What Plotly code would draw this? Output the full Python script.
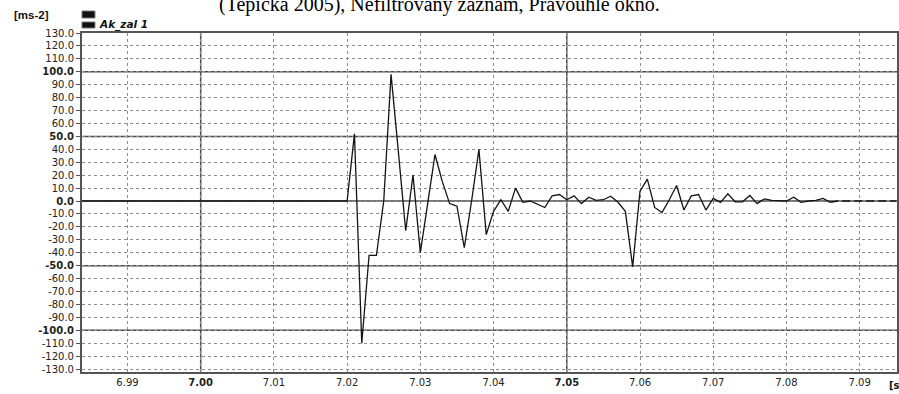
import numpy as np
import plotly.graph_objects as go

# Acceleration record Ak_zal 1 [m/s^2], sampled every 1 ms from the impact onset
t_start = 7.020
dt = 0.001
accel = [0, 52, -110, -42, -42, 0, 98, 38, -23, 20,
         -40, -2, 36, 15, -2, -4, -36, 0, 40, -26,
         -8, 1, -8, 10, -1, 0, -2.5, -5, 4, 5,
         1, 4, -2, 3, 0.5, 1, 3.7, -1, -8, -51,
         7.6, 17, -5, -9, 1, 12, -7, 4, 5, -7,
         2, -1, 5.6, -0.6, -0.6, 4.3, -2, 1.7, 0.5, 0,
         0, 3, -1, 0, 0.5, 2, -1, 0, 0, 0,
         0, 0, 0, 0, 0, 0]
# quiet baseline before the onset
baseline_t = [6.983, 7.020]
baseline_v = [0, 0]
tail_from = 66  # index where the record settles to zero

x_ticks = [6.99, 7.00, 7.01, 7.02, 7.03, 7.04, 7.05, 7.06, 7.07, 7.08, 7.09]
x_bold = [7.00, 7.05]
y_ticks = list(range(-130, 131, 10))
y_bold = [-100, -50, 0, 50, 100]

x_range = [6.98379, 7.0951]
y_range = [-132.3, 130]

times = list(t_start + dt * np.arange(len(accel)))

x_text = [f"<b>{v:.2f}</b>" if v in x_bold else f"{v:.2f}" for v in x_ticks]
y_text = [f"<b>{v:.1f}</b>" if v in y_bold else f"{v:.1f}" for v in y_ticks]

fig = go.Figure()
fig.add_trace(go.Scatter(
    x=baseline_t + times[:tail_from + 1], y=baseline_v + accel[:tail_from + 1],
    mode="lines", line=dict(color="#141414", width=1.3), showlegend=False,
    hoverinfo="skip"))
fig.add_trace(go.Scatter(
    x=times[tail_from:], y=accel[tail_from:],
    mode="lines", line=dict(color="#141414", width=1.6, dash="8px,4px"),
    showlegend=False, hoverinfo="skip"))

shapes = []
for v in y_bold:
    shapes.append(dict(type="line", xref="paper", x0=0, x1=1, yref="y", y0=v, y1=v,
                       line=dict(color="#4a4a4a", width=1.5), layer="below"))
for v in x_bold:
    shapes.append(dict(type="line", xref="x", x0=v, x1=v, yref="paper", y0=0, y1=1,
                       line=dict(color="#4a4a4a", width=1.5), layer="below"))

# legend keys above the plot area
W, H, L, T = 817.0, 339.0, 82.0, 33.0
def px(xp):
    return (xp - L) / W
def py(yp):
    return (T + H - yp) / H

for y0, y1 in [(11, 18), (22, 28)]:
    shapes.append(dict(type="rect", xref="paper", yref="paper",
                       x0=px(82), x1=px(95), y0=py(y1), y1=py(y0),
                       fillcolor="#111111", line=dict(color="#777777", width=1)))

annotations = [
    dict(text="(Tepička 2005), Nefiltrovaný záznam, Pravoúhlé okno.",
         xref="paper", yref="paper", x=px(440), y=py(4.5), xanchor="center", yanchor="middle",
         showarrow=False, font=dict(family="Liberation Serif", size=20, color="#000")),
    dict(text="<b>[ms-2]</b>", xref="paper", yref="paper", x=px(12), y=py(15),
         xanchor="left", yanchor="middle", showarrow=False,
         font=dict(family="Liberation Sans", size=11.5, color="#111")),
    dict(text="<b><i>Ak_zal 1</i></b>", xref="paper", yref="paper", x=px(97), y=py(25),
         xanchor="left", yanchor="middle", showarrow=False,
         font=dict(family="DejaVu Sans", size=10.5, color="#111")),
    dict(text="<b>[s]</b>", xref="paper", yref="paper", x=px(889), y=py(385),
         xanchor="left", yanchor="middle", showarrow=False,
         font=dict(family="DejaVu Sans", size=10, color="#111")),
]

fig.update_layout(
    width=899, height=394,
    margin=dict(l=82, r=0, t=33, b=22),
    paper_bgcolor="white", plot_bgcolor="white",
    shapes=shapes, annotations=annotations, showlegend=False,
    xaxis=dict(range=x_range, tickvals=x_ticks, ticktext=x_text, tickangle=0,
               showgrid=True, gridcolor="#8c8c8c", griddash="dot", gridwidth=1,
               zeroline=False, showline=True, linecolor="#555555", linewidth=2,
               mirror=True, ticks="",
               tickfont=dict(family="DejaVu Sans", size=10, color="#222")),
    yaxis=dict(range=y_range, tickvals=y_ticks, ticktext=y_text,
               showgrid=True, gridcolor="#8c8c8c", griddash="dot", gridwidth=1,
               zeroline=False, showline=True, linecolor="#555555", linewidth=2,
               mirror=True, ticks="outside", ticklen=4, tickcolor="#555555",
               tickfont=dict(family="DejaVu Sans", size=10, color="#222")),
)

fig.write_html("out.html")
